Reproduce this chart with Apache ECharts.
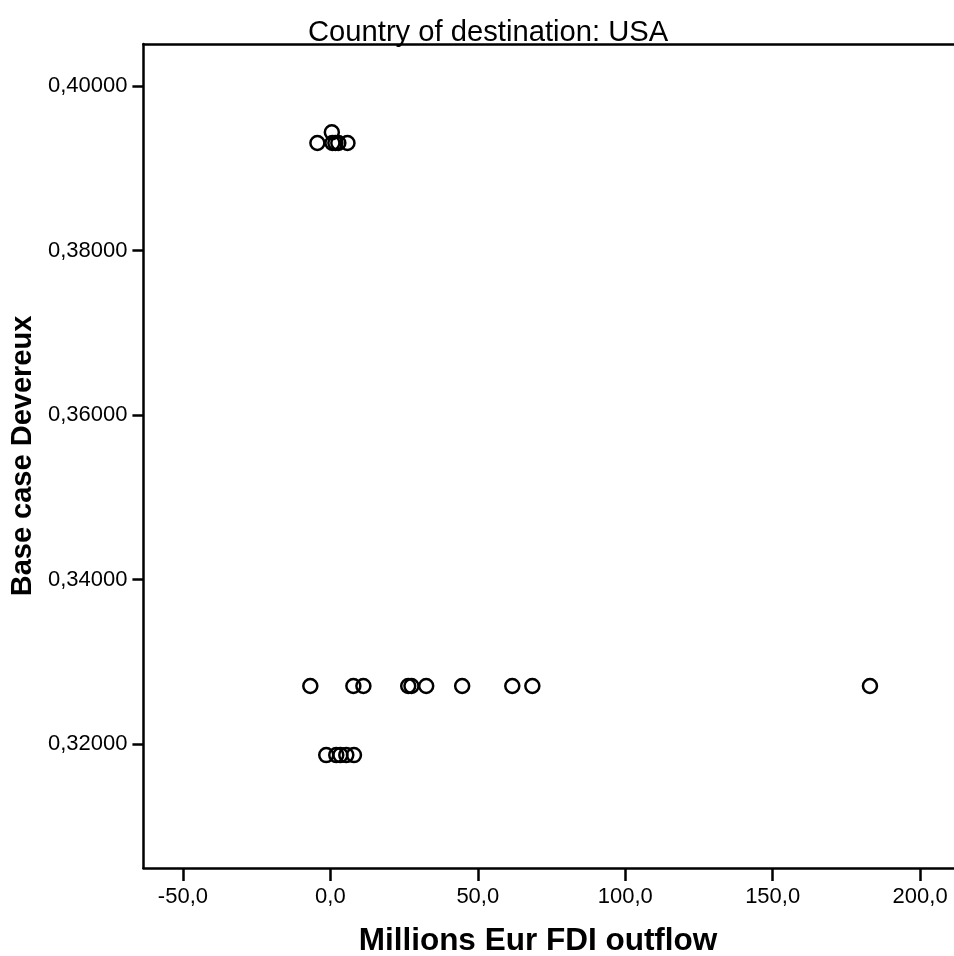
<!DOCTYPE html>
<html>
<head>
<meta charset="utf-8">
<script src="https://cdn.jsdelivr.net/npm/echarts@6/dist/echarts.min.js"></script>
<style>
  html, body { margin: 0; padding: 0; background: #fff; }
  #chart { width: 954px; height: 956px; }
</style>
</head>
<body>
<div id="chart"></div>
<script>
// FDI outflow (million EUR) against the base case Devereux tax rate
const fdiOutflow = [
  -4.4, 0.7, 1.7, 2.7, 5.8, 0.5,
  -6.8, 7.8, 11.2, 26.4, 27.5, 32.5, 44.7, 61.7, 68.5, 183.0,
  -1.4, 2.0, 3.4, 5.4, 8.0
];
const devereuxRate = [
  0.39307, 0.39307, 0.39307, 0.39307, 0.39307, 0.39437,
  0.32705, 0.32705, 0.32705, 0.32705, 0.32705, 0.32705, 0.32705, 0.32705, 0.32705, 0.32705,
  0.31865, 0.31865, 0.31865, 0.31865, 0.31865
];
const xTicks = [-50, 0, 50, 100, 150, 200];
const yTicks = [0.32, 0.34, 0.36, 0.38, 0.40];

const points = fdiOutflow.map((x, i) => [x, devereuxRate[i]]);
const font = 'Arial, "Liberation Sans", sans-serif';
const X_MIN = -63.4, X_MAX = 211.5;

const chart = echarts.init(document.getElementById('chart'));
chart.setOption({
  backgroundColor: '#fff',
  animation: false,
  title: {
    text: 'Country of destination: USA',
    left: 303,
    top: 13,
    textStyle: { fontFamily: font, fontSize: 29.2, fontWeight: 'normal', color: '#000' }
  },
  grid: { left: 143, top: 44, right: 0, bottom: 88 },
  xAxis: [{
    type: 'value',
    min: X_MIN, max: X_MAX,
    axisLine: { show: true, onZero: false, lineStyle: { color: '#000', width: 2.5 } },
    axisTick: { show: true, customValues: xTicks, length: 13, lineStyle: { color: '#000', width: 2.5 } },
    axisLabel: {
      customValues: xTicks, margin: 18,
      fontFamily: font, fontSize: 22, color: '#000',
      formatter: v => v.toFixed(1).replace('.', ',')
    },
    splitLine: { show: false }
  }, {
    // top frame edge
    type: 'value',
    position: 'top',
    min: X_MIN, max: X_MAX,
    axisLine: { show: true, onZero: false, lineStyle: { color: '#000', width: 2.5 } },
    axisTick: { show: false },
    axisLabel: { show: false },
    splitLine: { show: false }
  }],
  yAxis: {
    type: 'value',
    min: 0.30492, max: 0.40511,
    name: 'Base case Devereux',
    nameLocation: 'middle',
    nameGap: 106,
    nameTextStyle: { fontFamily: font, fontSize: 29, fontWeight: 'bold', color: '#000' },
    axisLine: { show: true, onZero: false, lineStyle: { color: '#000', width: 2.5 } },
    axisTick: { show: true, customValues: yTicks, length: 11, lineStyle: { color: '#000', width: 2.5 } },
    axisLabel: {
      customValues: yTicks, margin: 16,
      fontFamily: font, fontSize: 22, color: '#000',
      formatter: v => v.toFixed(5).replace('.', ',')
    },
    splitLine: { show: false }
  },
  graphic: [{
    type: 'text',
    x: 538, y: 941,
    style: {
      text: 'Millions Eur FDI outflow',
      align: 'center', verticalAlign: 'middle',
      font: 'bold 31.5px ' + font,
      fill: '#000'
    }
  }],
  series: [{
    type: 'scatter',
    data: points,
    symbol: 'circle',
    symbolSize: 14,
    itemStyle: { color: 'rgba(255,255,255,0)', borderColor: '#000', borderWidth: 2.5, opacity: 1 }
  }]
});
</script>
</body>
</html>
